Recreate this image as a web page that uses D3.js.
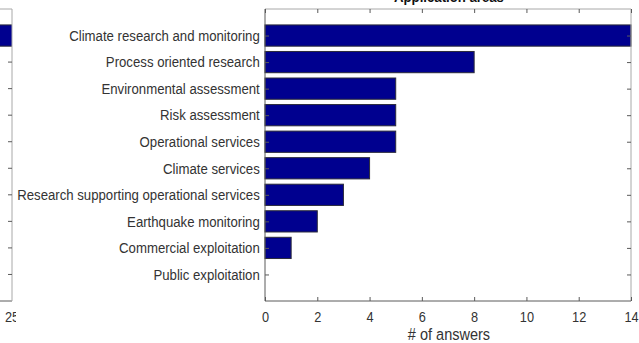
<!DOCTYPE html>
<html>
<head>
<meta charset="utf-8">
<script src="https://cdn.jsdelivr.net/npm/d3@7/dist/d3.min.js"></script>
<style>
  html, body { margin: 0; padding: 0; background: #fff; }
  svg { display: block; font-family: "Liberation Sans", Arial, sans-serif; }
</style>
</head>
<body>
<svg id="chart" width="639" height="343"></svg>
<script>
// Application areas, ordered top to bottom
const categories = [
  "Climate research and monitoring",
  "Process oriented research",
  "Environmental assessment",
  "Risk assessment",
  "Operational services",
  "Climate services",
  "Research supporting operational services",
  "Earthquake monitoring",
  "Commercial exploitation",
  "Public exploitation"
];
const answers = [14, 8, 5, 5, 5, 4, 3, 2, 1, 0];
const xTicks = [0, 2, 4, 6, 8, 10, 12, 14];

// Neighbouring panel (only its right edge shows)
const leftPanelValues = [30];
const leftPanelTickLabels = ["25"];

const svg = d3.select("#chart");
const barFill = "#00008f";
const barEdge = "#2a2a3a";
const textColor = "#333333";
const axisDark = "#5a5a5a";
const axisLight = "#a8a8a8";
const labelSize = 15;
const numSize = 14.5;
const squeeze = 0.88;   // narrow glyph proportions

const plot = { left: 265, right: 631, top: 9, bottom: 301 };

const x = d3.scaleLinear().domain([0, 14]).range([plot.left, plot.right]);
const y = d3.scaleLinear().domain([0, categories.length + 1]).range([plot.top, plot.bottom]);
const barH = (y(1) - y(0)) * 0.8;

// Text placed at (tx, ty) drawn with narrowed glyphs
function narrowText(sel, tx, ty) {
  return sel.append("g").attr("transform", `translate(${tx},${ty}) scale(${squeeze},1)`).append("text");
}

// Title (sits mostly above the visible area)
narrowText(svg, (plot.left + plot.right) / 2 + 1, 2)
  .attr("text-anchor", "middle")
  .attr("font-size", 15)
  .attr("font-weight", "bold")
  .attr("fill", "#111")
  .text("Application areas");

// Bars
svg.append("g").selectAll("rect")
  .data(categories)
  .join("rect")
  .attr("x", x(0))
  .attr("y", (d, i) => y(i + 1) - barH / 2)
  .attr("width", (d, i) => x(answers[i]) - x(0))
  .attr("height", barH)
  .attr("fill", barFill)
  .attr("stroke", barEdge)
  .attr("stroke-width", 1)
  .attr("display", (d, i) => answers[i] > 0 ? null : "none");

// Box
svg.append("line").attr("x1", plot.left).attr("x2", plot.right).attr("y1", plot.top).attr("y2", plot.top)
  .attr("stroke", axisLight);
svg.append("line").attr("x1", plot.right).attr("x2", plot.right).attr("y1", plot.top).attr("y2", plot.bottom)
  .attr("stroke", axisLight);

// Bottom axis (ticks inward)
const xAxis = d3.axisBottom(x).tickValues(xTicks).tickSize(-4).tickPadding(11).tickFormat(d3.format("d"));
const gx = svg.append("g").attr("transform", `translate(0,${plot.bottom})`).call(xAxis);
gx.select(".domain").attr("stroke", axisDark).attr("d", `M${plot.left},0H${plot.right}`);
gx.selectAll(".tick line").attr("stroke", axisDark);
gx.selectAll(".tick text").attr("fill", textColor).attr("font-size", numSize)
  .attr("font-family", "Liberation Sans, Arial, sans-serif")
  .attr("transform", `scale(${squeeze},1)`);

// Top ticks
const xTop = d3.axisTop(x).tickValues(xTicks).tickSize(-4).tickFormat("");
const gxt = svg.append("g").attr("transform", `translate(0,${plot.top})`).call(xTop);
gxt.select(".domain").remove();
gxt.selectAll(".tick line").attr("stroke", axisDark);

// Left axis with category labels
const yAxis = d3.axisLeft(y).tickValues(d3.range(1, categories.length + 1))
  .tickSize(-4).tickPadding(6).tickFormat(d => categories[d - 1]);
const gy = svg.append("g").attr("transform", `translate(${plot.left},0)`).call(yAxis);
gy.select(".domain").attr("stroke", axisDark).attr("d", `M0,${plot.top}V${plot.bottom}`);
gy.selectAll(".tick line").attr("stroke", axisDark);
gy.selectAll(".tick text").attr("fill", textColor).attr("font-size", labelSize)
  .attr("font-family", "Liberation Sans, Arial, sans-serif")
  .attr("transform", `scale(${squeeze},1)`);

// Right ticks
const yRight = d3.axisRight(y).tickValues(d3.range(1, categories.length + 1)).tickSize(-4).tickFormat("");
const gyr = svg.append("g").attr("transform", `translate(${plot.right},0)`).call(yRight);
gyr.select(".domain").remove();
gyr.selectAll(".tick line").attr("stroke", axisDark);

// X axis label
narrowText(svg, (plot.left + plot.right) / 2 + 1, 340)
  .attr("text-anchor", "middle")
  .attr("font-size", 16.5)
  .attr("fill", textColor)
  .text("# of answers");

// Neighbouring panel: right edge only, clipped at x = 12
const leftEdge = 12;
const defs = svg.append("defs");
defs.append("clipPath").attr("id", "leftClip")
  .append("rect").attr("x", 0).attr("y", 0).attr("width", leftEdge).attr("height", 343);
defs.append("clipPath").attr("id", "labelClip")
  .append("rect").attr("x", 0).attr("y", 0).attr("width", 16).attr("height", 343);

const xl = d3.scaleLinear().domain([0, 25]).range([-500, leftEdge]);
const lp = svg.append("g").attr("clip-path", "url(#leftClip)");
lp.selectAll("rect").data(leftPanelValues).join("rect")
  .attr("x", xl(0))
  .attr("y", y(1) - barH / 2)
  .attr("width", d => xl(d) - xl(0))
  .attr("height", barH)
  .attr("fill", barFill)
  .attr("stroke", barEdge);
svg.append("line").attr("x1", 0).attr("x2", leftEdge).attr("y1", plot.top).attr("y2", plot.top).attr("stroke", axisLight);
svg.append("line").attr("x1", 0).attr("x2", leftEdge).attr("y1", plot.bottom).attr("y2", plot.bottom).attr("stroke", axisDark);
svg.append("line").attr("x1", leftEdge).attr("x2", leftEdge).attr("y1", plot.top).attr("y2", plot.bottom).attr("stroke", axisLight);
svg.append("g").selectAll("line").data(d3.range(2, categories.length + 1)).join("line")
  .attr("x1", leftEdge - 4).attr("x2", leftEdge)
  .attr("y1", d => y(d)).attr("y2", d => y(d))
  .attr("stroke", axisDark);
const lbl = svg.append("g").attr("clip-path", "url(#labelClip)");
leftPanelTickLabels.forEach(t => {
  narrowText(lbl, 5, 322)
    .attr("font-size", numSize)
    .attr("fill", textColor)
    .text(t);
});
</script>
</body>
</html>
